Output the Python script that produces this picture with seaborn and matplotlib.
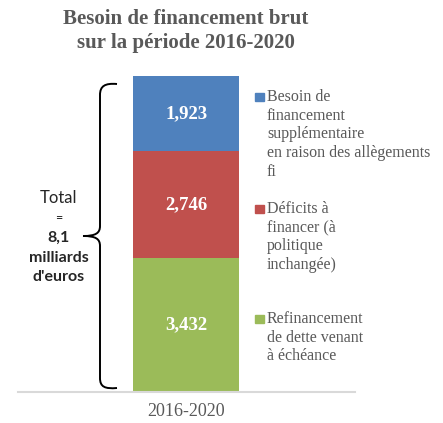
import numpy as np
import pandas as pd
import matplotlib
matplotlib.use('Agg')
import matplotlib.pyplot as plt
import seaborn as sns
from matplotlib.path import Path
from matplotlib.patches import PathPatch

# data (milliards d'euros)
period = '2016-2020'
segments = ['Refinancement de dette venant à échéance',
            'Déficits à financer (à politique inchangée)',
            'Besoin de financement supplémentaire en raison des allègements fi']
values = [3.432, 2.746, 1.923]
colors = ['#9BBB59', '#C0504D', '#4F81BD']
legend_lines = [['Refinancement', 'de dette venant', 'à échéance'],
                ['Déficits à', 'financer (à', 'politique', 'inchangée)'],
                ['Besoin de', 'financement', 'supplémentaire', 'en raison des allègements', 'fi']]

W, H = 443, 423
GREY = '#595959'
SERIF = 'Liberation Serif'

sns.set_style('white')
fig = plt.figure(figsize=(W / 100, H / 100), dpi=100)

def fx(x):
    return x / W

def fy(y):
    return (H - y) / H

ax = fig.add_axes([fx(18), fy(392), fx(355) - fx(18), fy(76) - fy(392)])

df = pd.DataFrame({'segment': segments, 'value': values, 'color': colors})
df['top'] = df['value'].cumsum()
df['bottom'] = df['top'] - df['value']
total = df['value'].sum()

# stacked look: draw cumulative bars from tallest to shortest
for _, row in df.iloc[::-1].iterrows():
    sns.barplot(x=[period], y=[row['top']], color=row['color'], saturation=1,
                width=0.8, linewidth=0, ax=ax)

for _, row in df.iterrows():
    ax.text(0, row['bottom'] + row['value'] / 2, f"{row['value']:.3f}".replace('.', ','),
            ha='center', va='center', color='white', fontsize=13.5,
            fontweight='bold', family=SERIF)

ax.set_ylim(0, total)
ax.set_xlim(-1.27, 1.275)
ax.set_yticks([])
ax.set_xlabel('')
ax.set_ylabel('')
for s in ['top', 'right', 'left']:
    ax.spines[s].set_visible(False)
ax.spines['bottom'].set_color('#D9D9D9')
ax.spines['bottom'].set_linewidth(1.5)
ax.tick_params(axis='x', length=0, pad=8, labelsize=13, labelcolor=GREY)
for lab in ax.get_xticklabels():
    lab.set_family(SERIF)

# title
fig.text(fx(186), fy(31), 'Besoin de financement brut\nsur la période 2016-2020',
         ha='center', va='center', fontsize=15, fontweight='bold', color=GREY,
         family=SERIF, linespacing=1.25)

# legend (top entry first)
entry_y = [319, 209, 97]
for (lines, c, y0) in zip(legend_lines, colors, entry_y):
    fig.patches.append(plt.Rectangle((fx(255), fy(y0 + 4)), fx(9), fy(0) - fy(8),
                                     color=c, transform=fig.transFigure))
    for i, line in enumerate(lines):
        fig.text(fx(267), fy(y0 + i * 18.7), line, ha='left', va='center',
                 fontsize=11.5, color=GREY, family=SERIF)

# curly brace
pts = [(117, 84), (105, 83), (100, 86), (100, 95),
       (100, 226),
       (100, 233), (96, 236), (83, 236),
       (96, 236), (100, 239), (100, 246),
       (100, 378),
       (100, 387), (105, 389), (117, 388)]
codes = [Path.MOVETO, Path.CURVE4, Path.CURVE4, Path.CURVE4,
         Path.LINETO,
         Path.CURVE4, Path.CURVE4, Path.CURVE4,
         Path.CURVE4, Path.CURVE4, Path.CURVE4,
         Path.LINETO,
         Path.CURVE4, Path.CURVE4, Path.CURVE4]
brace = Path([(fx(x), fy(y)) for x, y in pts], codes)
fig.patches.append(PathPatch(brace, fill=False, lw=1.4, color='black',
                             transform=fig.transFigure))

# total annotation
fig.text(fx(59), fy(198), 'Total', ha='center', va='center', fontsize=12, family='Lato')
fig.text(fx(59), fy(218), '=', ha='center', va='center', fontsize=9, family='Lato')
for txt, y in [('8,1', 238), ('milliards', 258), ("d'euros", 277)]:
    fig.text(fx(59), fy(y), txt, ha='center', va='center', fontsize=11.5,
             fontweight='bold', family='Lato')

fig.savefig('out.png', dpi=100)
